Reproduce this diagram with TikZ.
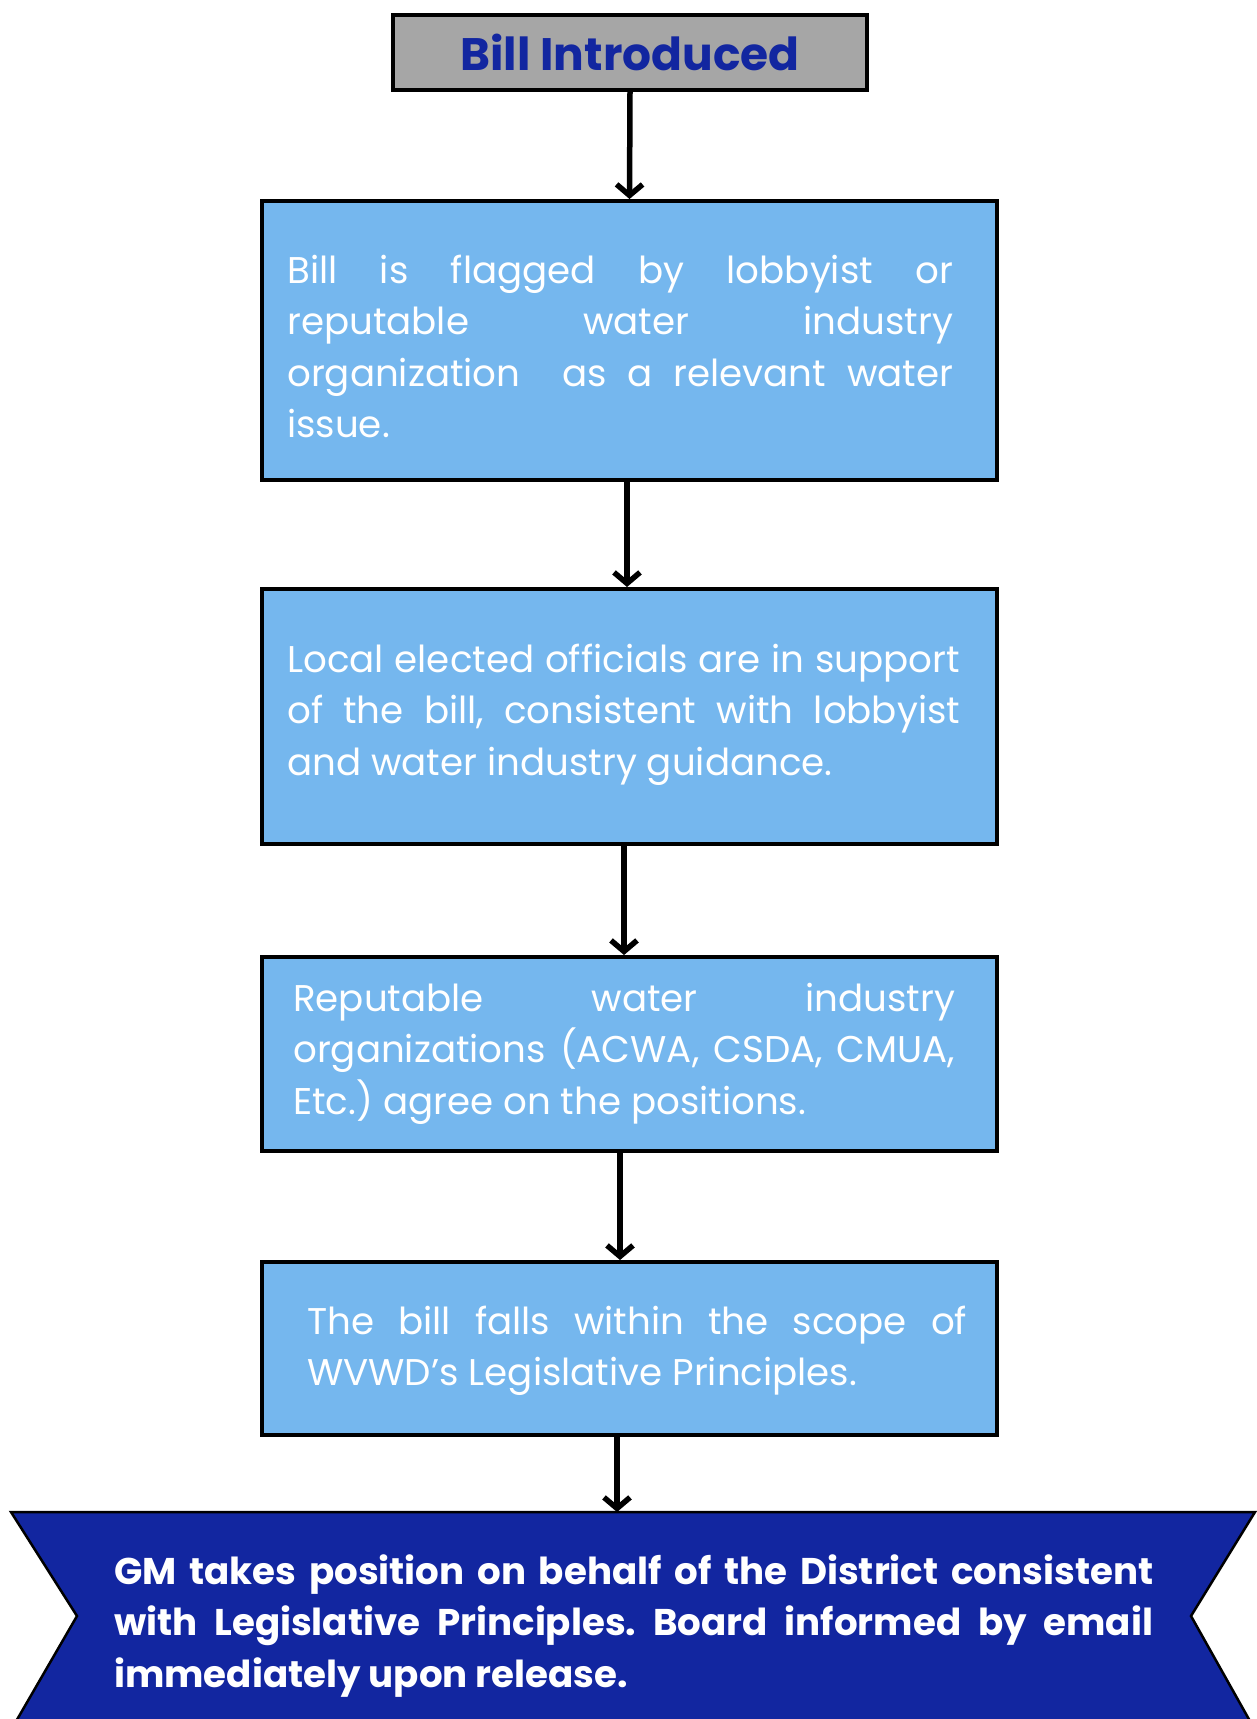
\documentclass[tikz,border=0pt]{standalone}
\usepackage{fontspec}
\setmainfont{Poppins}
\usetikzlibrary{arrows.meta}
\hyphenpenalty=10000
\exhyphenpenalty=10000
\frenchspacing

\definecolor{boxblue}{HTML}{75B7EE}
\definecolor{titlegray}{HTML}{A6A6A6}
\definecolor{navy}{HTML}{1226A0}

\tikzset{
  flow/.style={line width=5.5pt, -{Straight Barb[length=11pt,width=26pt]}},
  titlebox/.style={draw, line width=4pt, fill=titlegray, text=navy,
    minimum width=474pt, minimum height=75pt, font=\fontsize{45.5}{50}\selectfont\bfseries},
  stepbox/.style={draw, line width=4pt, fill=boxblue, minimum width=735pt},
  boxtext/.style={text=white, align=justify, inner sep=0pt, anchor=base west,
    font=\fontsize{37.2}{51.5}\selectfont},
  banner/.style={draw=black, line width=2.5pt, fill=navy},
  bannertext/.style={boxtext, font=\fontsize{37.2}{51.5}\selectfont\bfseries},
}

\begin{document}
\begin{tikzpicture}[x=1pt, y=-1pt]
  \useasboundingbox (0,0) rectangle (1257,1719);

  % boxes
  \node[titlebox] (b0) at (630,52.5) {Bill Introduced};
  \node[stepbox, minimum height=279pt] (b1) at (629.5,340.5) {};
  \node[stepbox, minimum height=255pt] (b2) at (629.5,716.5) {};
  \node[stepbox, minimum height=194pt] (b3) at (629.5,1054) {};
  \node[stepbox, minimum height=173pt] (b4) at (629.5,1348.5) {};

  % banner at the bottom
  \draw[banner] (11,1512) -- (1255,1512) -- (1191,1616) -- (1255,1730)
    -- (11,1730) -- (77,1616) -- cycle;
  \coordinate (b5) at (630,1512);

  % texts
  \node[boxtext, text width=666pt] (t1) at (287,283)
    {Bill is flagged by lobbyist or\linebreak reputable water industry\linebreak
     organization\ \ as a relevant water\linebreak issue.};
  \node[boxtext, text width=673pt] (t2) at (287,672)
    {Local elected officials are in support\linebreak of the bill, consistent with lobbyist\linebreak
     and water industry guidance.};
  \node[boxtext, text width=662pt] (t3) at (293,1011)
    {Reputable water industry\linebreak organizations (ACWA, CSDA, CMUA,\linebreak
     Etc.) agree on the positions.};
  \node[boxtext, text width=660pt] (t4) at (307,1334)
    {The bill falls within the scope of\linebreak WVWD’s Legislative Principles.};
  \node[bannertext, text width=1039pt] (gm) at (114,1584)
    {GM takes position on behalf of the District consistent\linebreak
     with Legislative Principles. Board informed by email\linebreak
     immediately upon release.};

  % arrows
  \draw[flow] (b0.south) -- (b1.north);
  \draw[flow] ([xshift=-2.5pt]b1.south) -- ([xshift=-2.5pt]b2.north);
  \draw[flow] ([xshift=-5.5pt]b2.south) -- ([xshift=-5.5pt]b3.north);
  \draw[flow] ([xshift=-9.5pt]b3.south) -- ([xshift=-9.5pt]b4.north);
  \draw[flow] ([xshift=-12.5pt]b4.south) -- ([xshift=-13pt]b5);
\end{tikzpicture}
\end{document}
